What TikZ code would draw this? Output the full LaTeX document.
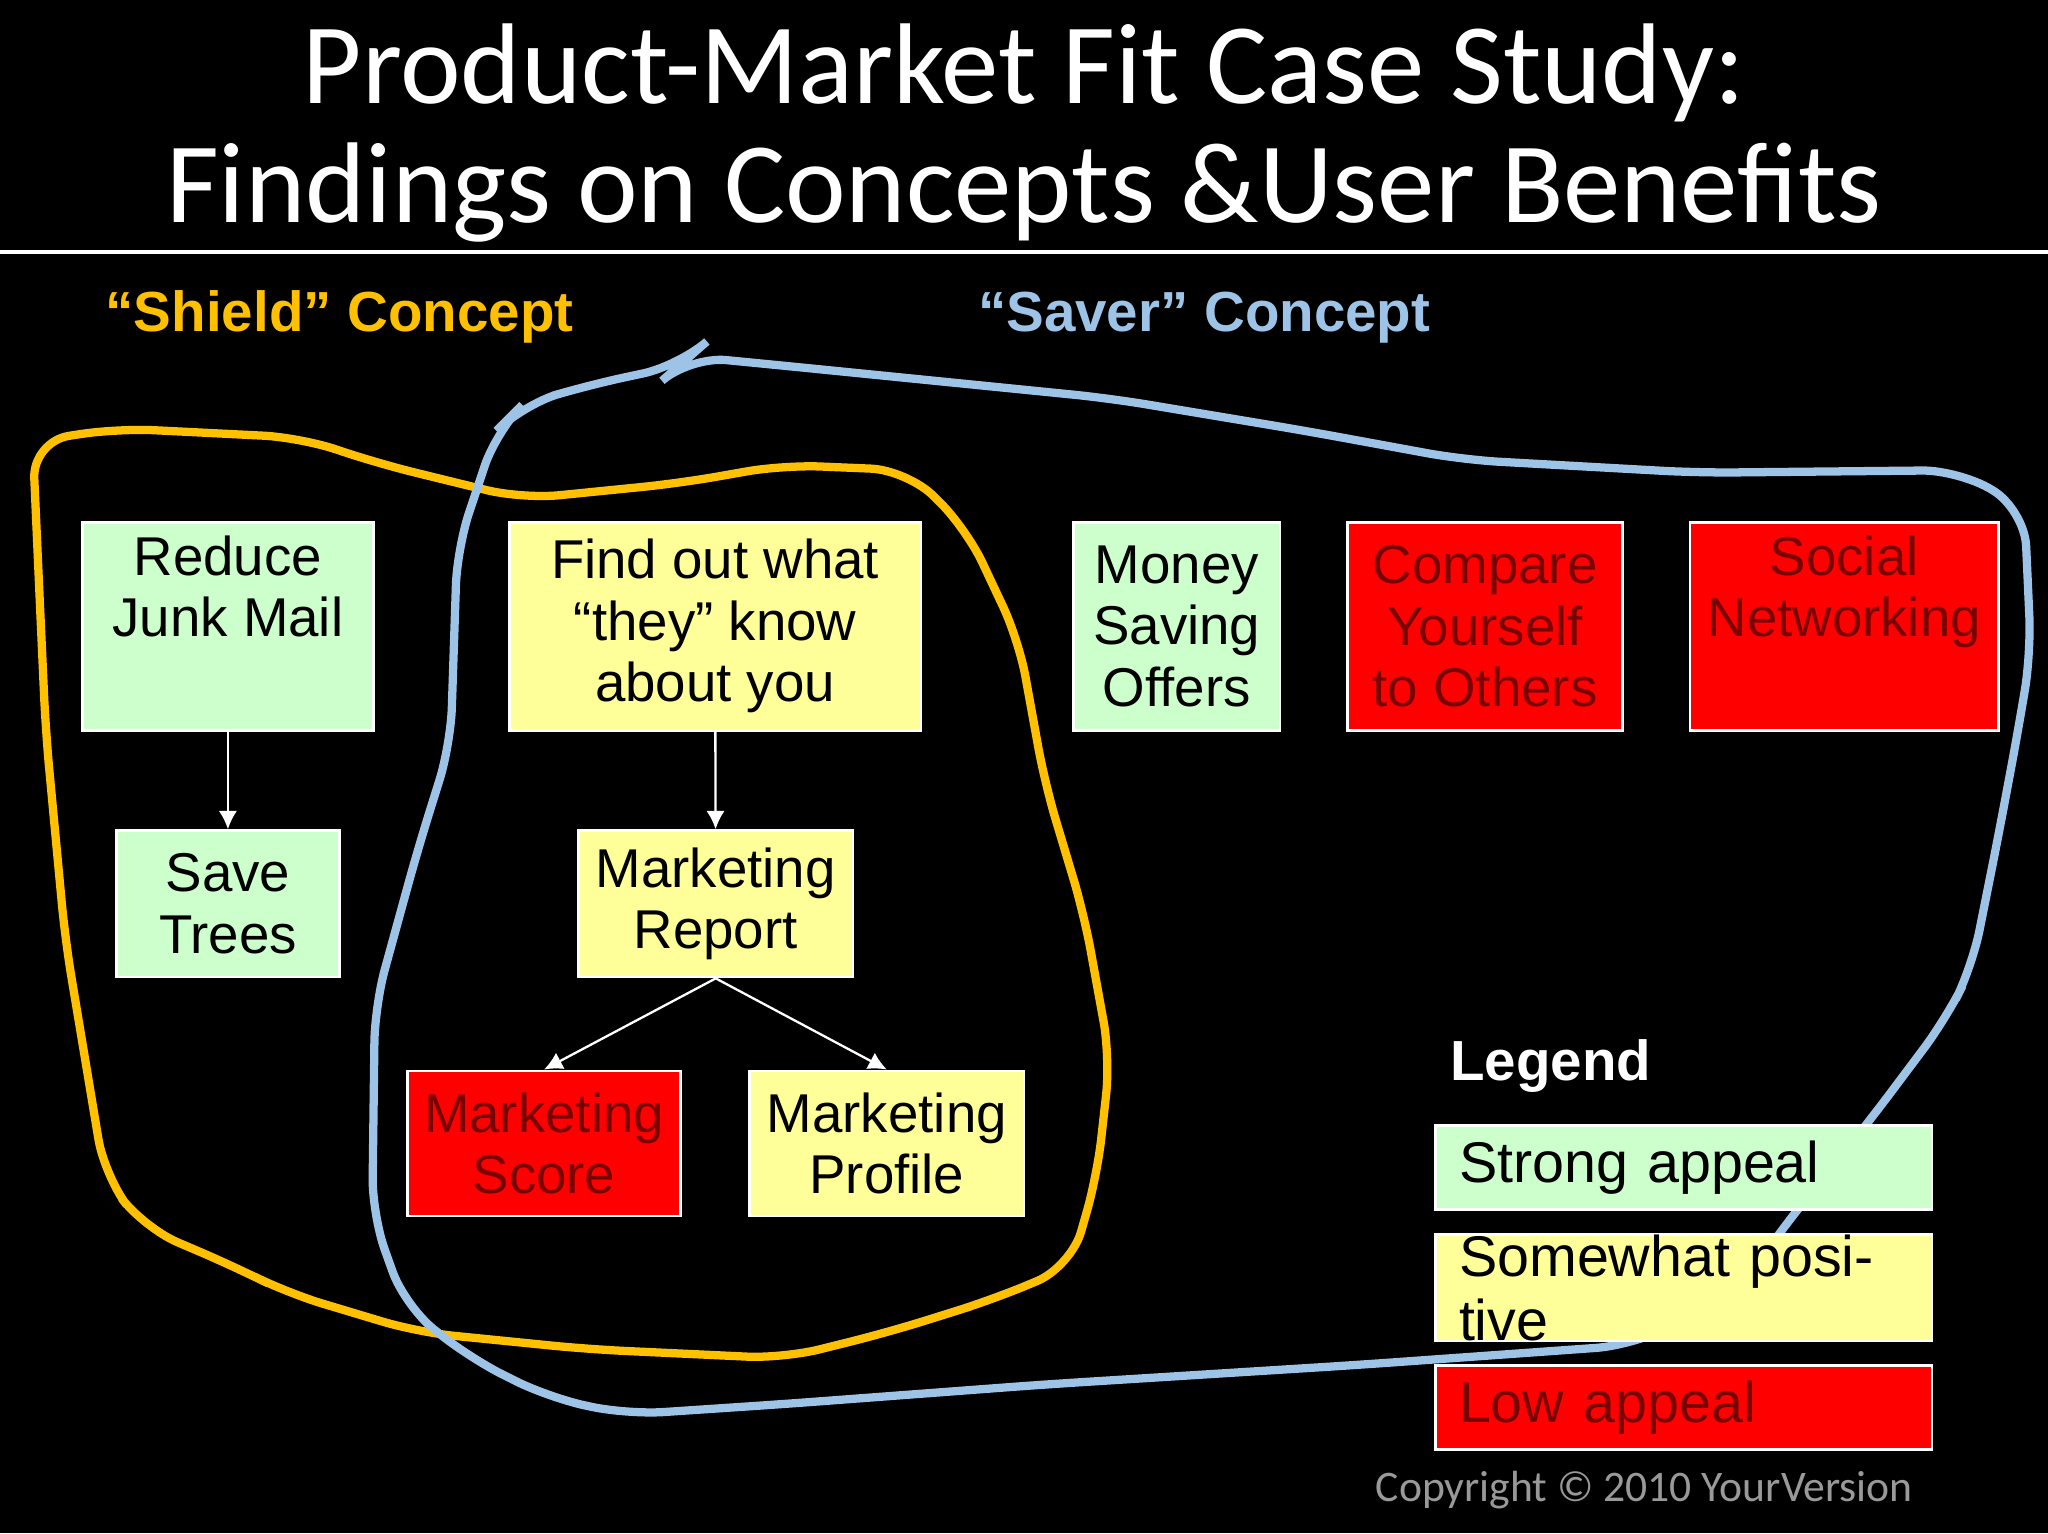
\documentclass[tikz,border=0pt]{standalone}
\usepackage{fontspec}
\setmainfont{Liberation Sans}
\newfontfamily\titlefont{Carlito}
\usetikzlibrary{arrows.meta}
\definecolor{appgreen}{HTML}{CCFFCC}
\definecolor{appyellow}{HTML}{FFFF99}
\definecolor{appred}{HTML}{FF0000}
\definecolor{redtext}{HTML}{7A0000}
\definecolor{shieldcol}{HTML}{FFC000}
\definecolor{savercol}{HTML}{9DC3E6}
\tikzset{
  box/.style={draw=white, line width=0.6pt, align=center, inner sep=0pt,
    font=\fontsize{11.9}{13.4}\selectfont},
  green/.style={box, fill=appgreen},
  yellow/.style={box, fill=appyellow},
  red/.style={box, fill=appred, text=redtext},
  link/.style={draw=white, line width=0.5pt, -{Latex[length=4pt,width=4pt]}},
  legend/.style={box, anchor=west, text width=3.44cm, minimum height=0.64cm, align=left,
    inner xsep=0.18cm, font=\fontsize{12.5}{14}\selectfont}
}
\begin{document}
\begin{tikzpicture}[x=0.01cm,y=-0.01cm]
  \useasboundingbox[fill=black] (0,0) rectangle (1568,1174);

  % title
  \node[white, align=center, font=\titlefont\fontsize{25}{25.9}\selectfont] (title) at (784,102) {Product-Market Fit Case Study:\\Findings on Concepts \&User Benefits};
  \draw[white, line width=0.7pt] (0,193) -- (1568,193);

  \node[shieldcol, font=\bfseries\fontsize{12.3}{14}\selectfont] (shield) at (260,243) {“Shield” Concept};
  \node[savercol, font=\bfseries\fontsize{12.3}{14}\selectfont] (saver) at (922,243) {“Saver” Concept};

  % hand drawn loops
  \draw[shieldcol, line width=1.8pt, rounded corners=8pt] (25,338) -- (90,328) -- (230,335) -- (290,355) -- (400,382) -- (520,370) -- (600,356) -- (695,360) -- (740,405) -- (780,490) -- (800,600) -- (830,700) -- (850,810) -- (840,900) -- (820,970) -- (760,995) -- (680,1020) -- (600,1040) -- (450,1033) -- (320,1020) -- (220,990) -- (180,970) -- (110,940) -- (80,900) -- (65,810) -- (50,720) -- (35,560) -- (30,450) -- cycle;
  \draw[savercol, line width=1.8pt, rounded corners=8pt] (528,273) -- (600,280) -- (700,290) -- (850,305) -- (1000,330) -- (1120,352) -- (1300,362) -- (1500,360) -- (1550,390) -- (1555,500) -- (1545,560) -- (1530,640) -- (1510,740) -- (1490,780) -- (1430,860) -- (1365,940) -- (1330,990) -- (1250,1030) -- (1040,1045) -- (800,1060) -- (600,1075) -- (480,1083) -- (420,1070) -- (360,1040) -- (310,1000) -- (285,930) -- (287,770) -- (320,650) -- (345,570) -- (350,420) -- (380,330) -- (400,310) -- (450,295) -- (520,280) -- cycle;

  % concept boxes
  \node[green, minimum width=2.23cm, minimum height=1.59cm] (junk) at (174.5,479.5) {Reduce\\Junk Mail\\\strut};
  \node[green, minimum width=1.71cm, minimum height=1.12cm] (trees) at (174.5,692) {Save\\Trees};
  \node[yellow, minimum width=3.15cm, minimum height=1.59cm] (find) at (547.5,479.5) {Find out what\\“they” know\\about you};
  \node[yellow, minimum width=2.10cm, minimum height=1.12cm] (report) at (548,692) {Marketing\\Report};
  \node[red, minimum width=2.09cm, minimum height=1.11cm] (score) at (416.5,875.5) {Marketing\\Score};
  \node[yellow, minimum width=2.10cm, minimum height=1.11cm] (profile) at (679,875.5) {Marketing\\Profile};
  \node[green, minimum width=1.58cm, minimum height=1.59cm] (money) at (901,479.5) {Money\\Saving\\Offers};
  \node[red, minimum width=2.10cm, minimum height=1.59cm] (compare) at (1137,479.5) {Compare\\Yourself\\to Others};
  \node[red, minimum width=2.36cm, minimum height=1.59cm] (social) at (1412,479.5) {Social\\Networking\\\strut};

  \draw[link] (junk) -- (trees);
  \draw[link] (find) -- (report);
  \draw[link] (report.south) -- (score.north);
  \draw[link] (report.south) -- (profile.north);

  % legend
  \node[white, anchor=west, font=\bfseries\fontsize{12.3}{14}\selectfont] (legendtitle) at (1098,816) {Legend};
  \node[legend, fill=appgreen] (strong) at (1098,894) {Strong appeal};
  \node[legend, fill=appyellow] (somewhat) at (1098,986) {Somewhat positive};
  \node[legend, fill=appred, text=redtext] (low) at (1098,1077.5) {Low appeal};

  \node[gray!80, anchor=east, font=\titlefont\fontsize{9.5}{11}\selectfont] (copy) at (1477,1141) {Copyright © 2010 YourVersion};
\end{tikzpicture}
\end{document}
